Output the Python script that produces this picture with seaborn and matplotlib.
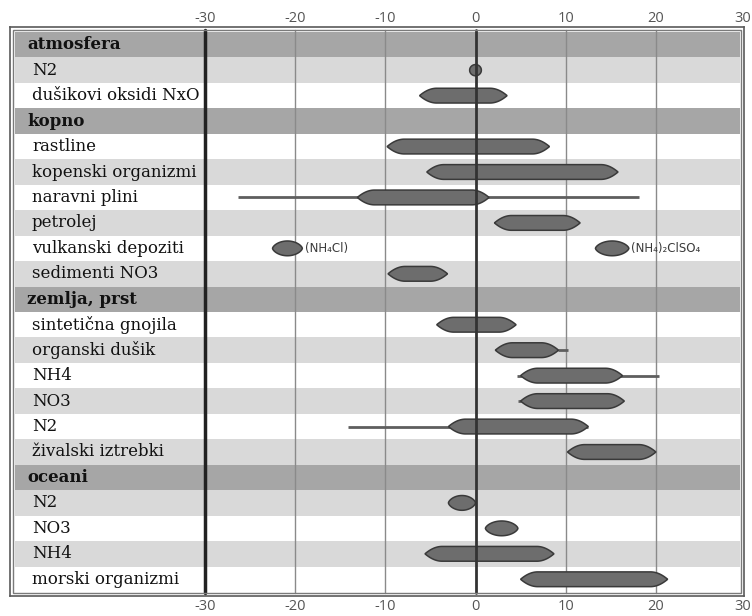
import numpy as np
import matplotlib
matplotlib.use("Agg")
import matplotlib.pyplot as plt
from matplotlib.patches import Polygon, Rectangle
import seaborn as sns

# ---- data -----------------------------------------------------------------
row_labels = [
    "atmosfera", "N2", "dušikovi oksidi NxO",
    "kopno", "rastline", "kopenski organizmi", "naravni plini", "petrolej",
    "vulkanski depoziti", "sedimenti NO3",
    "zemlja, prst", "sintetična gnojila", "organski dušik", "NH4", "NO3", "N2",
    "živalski iztrebki",
    "oceani", "N2", "NO3", "NH4", "morski organizmi",
]
header_rows = [0, 3, 10, 17]
light_rows = [1, 5, 7, 9, 12, 14, 16, 18, 20]

# delta-15N ranges (per mil)
range_row = [1, 2, 4, 5, 6, 7, 8, 8, 9, 11, 12, 13, 14, 15, 16, 18, 19, 20, 21]
range_lo = [-0.65, -6.2, -9.8, -5.4, -13.1, 2.1, -22.5, 13.3, -9.7, -4.3,
            2.2, 5.0, 5.0, -3.0, 10.2, -3.0, 1.1, -5.6, 5.0]
range_hi = [0.65, 3.5, 8.2, 15.8, 1.5, 11.6, -19.2, 17.0, -3.1, 4.5,
            9.2, 16.3, 16.5, 12.5, 20.0, 0.0, 4.7, 8.7, 21.3]

# extreme values drawn as thin lines
whisker_row = [6, 12, 13, 14, 15]
whisker_lo = [-26.3, 9.2, 4.6, 4.7, -14.1]
whisker_hi = [18.1, 10.2, 20.3, 5.0, 12.5]

note_row = [8, 8]
note_x = [-18.9, 17.2]
note_text = ["(NH₄Cl)", "(NH₄)₂ClSO₄"]

tick_values = [-30, -20, -10, 0, 10, 20, 30]

# ---- style ----------------------------------------------------------------
sns.set_theme(style="white")
plt.rcParams["font.family"] = ["DejaVu Serif"]

HEADER = "#a6a6a6"
LIGHT = "#d9d9d9"
FILL = "#6d6d6d"
EDGE = "#3a3a3a"

fig = plt.figure(figsize=(7.52, 6.16), dpi=100)
W, H = 752, 616
x0, x1, y0, y1 = 10, 744, 27, 596
ax = fig.add_axes([x0 / W, 1 - y1 / H, (x1 - x0) / W, (y1 - y0) / H])

px_per_unit = 9.02
zero_px = 475.5
ax.set_xlim((x0 - zero_px) / px_per_unit, (x1 - zero_px) / px_per_unit)
row_px = 25.45
ax.set_ylim(21.5 + 4 / row_px, -0.5 - 5 / row_px)
ax.set_xticks([])
ax.set_yticks([])
for s in ax.spines.values():
    s.set_color("#5a5a5a")
    s.set_linewidth(1.2)

# row bands
bx0 = (15 - x0) / (x1 - x0)
bx1 = (740 - x0) / (x1 - x0)
for i in range(len(row_labels)):
    if i in header_rows:
        c = HEADER
    elif i in light_rows:
        c = LIGHT
    else:
        c = "white"
    ax.axhspan(i - 0.5, i + 0.5, xmin=bx0, xmax=bx1, color=c, lw=0, zorder=0)

# inner frame line
ix0 = 3 / (x1 - x0)
iy0 = 3 / (y1 - y0)
ax.add_patch(Rectangle((ix0, iy0), 1 - 2 * ix0, 1 - 2 * iy0, transform=ax.transAxes,
                       fill=False, ec="#7a7a7a", lw=1.0, zorder=5))

# vertical guide lines
for v in tick_values[1:-1]:
    if v == 0:
        ax.axvline(v, ymin=iy0, ymax=1 - iy0, color="#333333", lw=2.0, zorder=4)
    else:
        ax.axvline(v, ymin=iy0, ymax=1 - iy0, color="#8a8a8a", lw=1.0, zorder=1)
ax.axvline(-30, ymin=iy0, ymax=1 - iy0, color="#222222", lw=2.5, zorder=4)

# whiskers
ax.hlines(whisker_row, whisker_lo, whisker_hi, color="#5e5e5e", lw=2.0, zorder=2)


def lens(a, b, row, half_h=0.29, taper=1.9):
    xs = np.linspace(a, b, 240)
    half = (b - a) / 2
    L = min(taper, half)
    d = np.minimum(xs - a, b - xs)
    u = np.clip(d / L, 0, 1)
    if half < 1.0:
        q = 0.5
    elif half < 2.5:
        q = 0.65
    else:
        q = 1.0
    ys = half_h * (1 - (1 - u) ** 2) ** q
    top = np.column_stack([xs, row - ys])
    bot = np.column_stack([xs[::-1], row + ys[::-1]])
    return np.vstack([top, bot])


for r, a, b in zip(range_row, range_lo, range_hi):
    hh = 0.22 if (b - a) < 2 else 0.29
    ax.add_patch(Polygon(lens(a, b, r, half_h=hh), closed=True, fc=FILL, ec=EDGE,
                         lw=1.1, zorder=3))

# row labels
for i, lab in enumerate(row_labels):
    if i in header_rows:
        ax.text((27 - zero_px) / px_per_unit, i, lab, fontsize=12, fontweight="bold",
                va="center", ha="left", color="#111111", zorder=6)
    else:
        ax.text((32 - zero_px) / px_per_unit, i, lab, fontsize=12,
                va="center", ha="left", color="#111111", zorder=6)

for r, x, t in zip(note_row, note_x, note_text):
    ax.text(x, r, t, fontsize=8.5, family=["DejaVu Sans"],
            va="center", ha="left", color="#3a3a3a", zorder=6)

# axis numbers, top and bottom
trans = ax.get_xaxis_transform()
for v in tick_values:
    xv = v - 0.4 if v == 30 else v
    ax.text(xv, 1 + 9 / (y1 - y0), f"{v}", transform=trans, ha="center", va="center",
            fontsize=10.5, family=["Open Sans", "DejaVu Sans"], color="#555555",
            clip_on=False)
    ax.text(xv, -11 / (y1 - y0), f"{v}", transform=trans, ha="center", va="center",
            fontsize=10.5, family=["Open Sans", "DejaVu Sans"], color="#555555",
            clip_on=False)

fig.savefig("out.png", dpi=100, facecolor="white")
